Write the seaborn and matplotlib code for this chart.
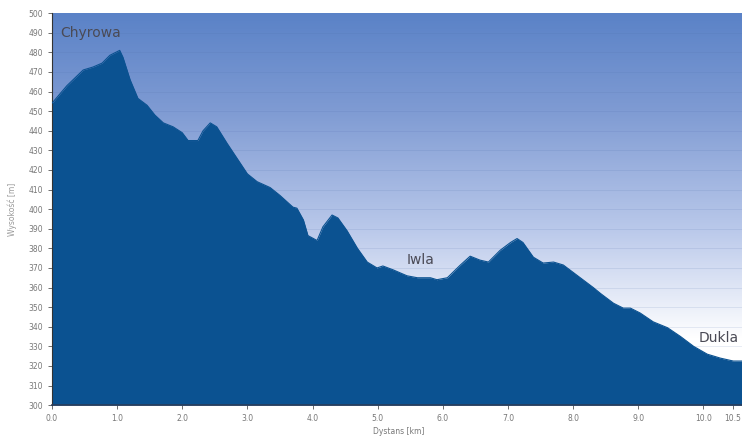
import numpy as np
import pandas as pd
import matplotlib
matplotlib.use("Agg")
import matplotlib.pyplot as plt
import seaborn as sns
from matplotlib.colors import LinearSegmentedColormap

# profil trasy: dystans [km] i wysokosc [m]
dystans = [0.0, 0.23, 0.48, 0.63, 0.77, 0.89, 1.04, 1.09, 1.20, 1.32, 1.46, 1.58, 1.71, 1.86,
           2.00, 2.09, 2.24, 2.32, 2.43, 2.53, 2.69, 2.84, 3.00, 3.15, 3.35, 3.50, 3.70, 3.76,
           3.86, 3.93, 4.07, 4.16, 4.30, 4.39, 4.53, 4.69, 4.84, 4.99, 5.08, 5.24, 5.45, 5.61,
           5.81, 5.91, 6.07, 6.27, 6.42, 6.57, 6.70, 6.88, 7.04, 7.14, 7.23, 7.39, 7.54, 7.70,
           7.85, 8.11, 8.31, 8.42, 8.62, 8.77, 8.88, 9.03, 9.23, 9.45, 9.65, 9.85, 10.06, 10.26,
           10.46, 10.65]
wysokosc = [454, 463, 471, 472.5, 474.5, 478.5, 481, 477.5, 466, 456.5, 453, 448, 444, 442,
            439, 435, 435, 440, 444, 442, 433.5, 426, 418, 414, 411, 407, 401, 400.5,
            394.5, 386.5, 384, 391, 397, 395.5, 389, 380, 373, 370, 371, 369, 366, 365,
            365, 364, 365, 371.5, 376, 374, 373, 379, 383, 385, 383, 375.5, 372.5, 373,
            371.5, 365, 360, 357, 352, 349.5, 349.5, 347, 342.5, 339.5, 335, 330, 326, 324,
            322.5, 322.5]

miejsca = ["Chyrowa", "Iwla", "Dukla"]
miejsca_x = [0.12, 5.45, 9.92]
miejsca_y = [488, 372, 332]

y_ticks = list(range(300, 501, 10))
x_ticks = [0.0, 1.0, 2.0, 3.0, 4.0, 5.0, 6.0, 7.0, 8.0, 9.0, 10.0, 10.45]
x_labels = ["0.0", "1.0", "2.0", "3.0", "4.0", "5.0", "6.0", "7.0", "8.0", "9.0", "10.0", "10.5"]

df = pd.DataFrame({"dystans": dystans, "wysokosc": wysokosc})

sns.set_style("white")
plt.rcParams["font.family"] = ["DejaVu Sans"]

fig = plt.figure(figsize=(7.42, 4.38), dpi=100)
ax = fig.add_axes([0.070, 0.075, 0.935, 0.895])

# tlo z gradientem
cmap = LinearSegmentedColormap.from_list(
    "tlo", [(0.0, "#ffffff"), (0.17, "#ffffff"), (0.45, "#b9c8ea"), (0.75, "#7f9bd3"), (1.0, "#5a82c7")])
grad = np.linspace(0, 1, 256).reshape(-1, 1)
ax.imshow(grad, cmap=cmap, aspect="auto", origin="lower",
          extent=[0, 10.65, 300, 500], zorder=0)

for yy in y_ticks[1:-1]:
    ax.axhline(yy, color="#4a6aa8", lw=0.6, alpha=0.15, zorder=1)

ax.fill_between(df["dystans"], df["wysokosc"], 300, color="#0b5291", zorder=2, lw=0)
sns.lineplot(data=df, x="dystans", y="wysokosc", color="#0b5291", lw=0.8, ax=ax, zorder=3)

for nazwa, mx, my in zip(miejsca, miejsca_x, miejsca_y):
    ax.text(mx, my, nazwa, fontsize=10, color="#4a4a55", zorder=4)

ax.set_xlim(0, 10.65)
ax.set_ylim(300, 500)
ax.set_yticks(y_ticks)
ax.set_yticklabels([str(v) for v in y_ticks])
ax.set_xticks(x_ticks)
ax.set_xticklabels(x_labels)
ax.tick_params(axis="both", labelsize=5.5, labelcolor="#777777", length=3, width=0.6,
               color="#555555", direction="out", left=True, bottom=True)
ax.set_xlabel("Dystans [km]", fontsize=5.5, color="#777777", labelpad=3)
ax.set_ylabel("Wysokość [m]", fontsize=5.5, color="#999999", labelpad=8)

for s in ["top", "right"]:
    ax.spines[s].set_visible(False)
ax.spines["left"].set_color("#333333")
ax.spines["left"].set_linewidth(0.8)
ax.spines["bottom"].set_color("#2a3d5a")
ax.spines["bottom"].set_linewidth(1.2)

fig.savefig("out.png", dpi=100)
